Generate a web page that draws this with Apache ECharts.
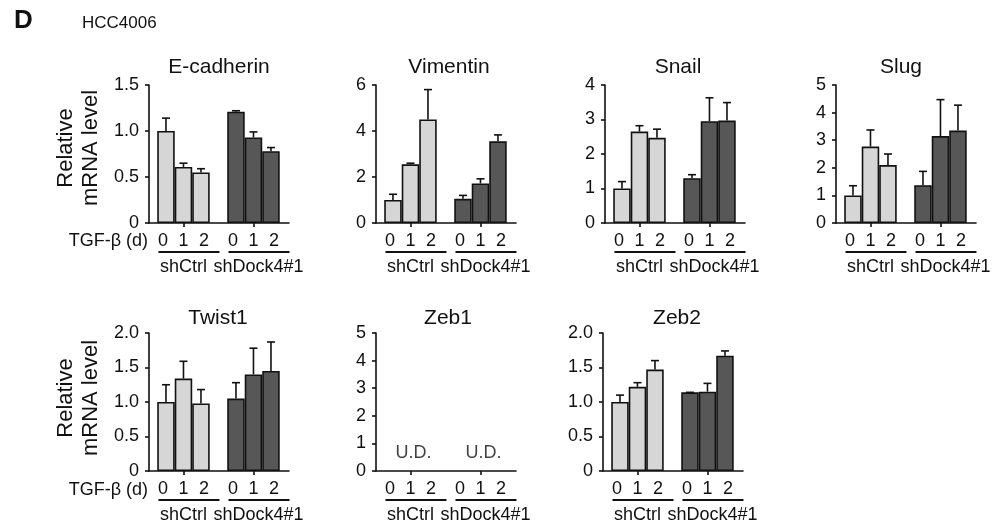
<!DOCTYPE html>
<html><head><meta charset="utf-8">
<script src="https://cdn.jsdelivr.net/npm/echarts@6/dist/echarts.min.js"></script>
<style>html,body{margin:0;padding:0;background:#fff}#c{width:1001px;height:527px}</style>
</head><body><div id="c"></div>
<script>
// ---- data ----
const genes = ['E-cadherin','Vimentin','Snail','Slug','Twist1','Zeb1','Zeb2'];
const days = ['0','1','2'];
const groups = ['shCtrl','shDock4#1'];
const yMax = [1.5, 6, 4, 5, 2, 5, 2];
const yStep = [0.5, 2, 1, 1, 0.5, 1, 0.5];
const ecadCtrl = [1.00, 0.61, 0.55], ecadCtrlErr = [0.14, 0.04, 0.04];
const ecadDock = [1.21, 0.93, 0.78], ecadDockErr = [0.01, 0.06, 0.04];
const vimCtrl = [1.00, 2.55, 4.50], vimCtrlErr = [0.25, 0.05, 1.30];
const vimDock = [1.05, 1.72, 3.55], vimDockErr = [0.15, 0.20, 0.28];
const snailCtrl = [1.00, 2.65, 2.47], snailCtrlErr = [0.20, 0.17, 0.25];
const snailDock = [1.30, 2.95, 2.97], snailDockErr = [0.10, 0.68, 0.52];
const slugCtrl = [1.00, 2.77, 2.10], slugCtrlErr = [0.35, 0.60, 0.40];
const slugDock = [1.37, 3.15, 3.35], slugDockErr = [0.50, 1.32, 0.92];
const twistCtrl = [1.00, 1.34, 0.98], twistCtrlErr = [0.25, 0.25, 0.20];
const twistDock = [1.05, 1.40, 1.45], twistDockErr = [0.23, 0.38, 0.42];
const undetected = 'U.D.'; // Zeb1: undetectable in both groups
const zeb2Ctrl = [1.00, 1.22, 1.47], zeb2CtrlErr = [0.10, 0.06, 0.13];
const zeb2Dock = [1.14, 1.15, 1.67], zeb2DockErr = [0.00, 0.12, 0.07];

const panelData = [
  [ecadCtrl, ecadCtrlErr, ecadDock, ecadDockErr],
  [vimCtrl, vimCtrlErr, vimDock, vimDockErr],
  [snailCtrl, snailCtrlErr, snailDock, snailDockErr],
  [slugCtrl, slugCtrlErr, slugDock, slugDockErr],
  [twistCtrl, twistCtrlErr, twistDock, twistDockErr],
  null,
  [zeb2Ctrl, zeb2CtrlErr, zeb2Dock, zeb2DockErr]
];

// ---- layout ----
const FONT = 'Liberation Sans, Arial, sans-serif';
const FS = 18;
const TFS = 21;
const gridLeft = [149, 376, 605, 836, 149, 376, 603];
const gridTop = [85, 85, 85, 85, 333, 333, 333];
const gridH = [138, 138, 138, 138, 138, 138, 138];
const titleX = [219, 449, 678, 901, 218, 448, 677];
const titleY = [67, 67, 67, 67, 318, 318, 318];
const fills = ['#d6d6d6', '#575757'];
const groupTextShift = [0, 5];

const grid = [], xAxis = [], yAxis = [], series = [], graphic = [];
genes.forEach((g, i) => {
  grid.push({left: gridLeft[i], top: gridTop[i], width: 140, height: gridH[i]});
  graphic.push({type: 'text', x: titleX[i], y: titleY[i], style: {text: g, fill: '#111',
    font: TFS + 'px ' + FONT, textAlign: 'center', textVerticalAlign: 'middle'}});
  xAxis.push({type: 'value', gridIndex: i, min: -0.97, max: 7.03,
    axisLine: {show: true, onZero: false, lineStyle: {color: '#111', width: 1.6}},
    axisTick: {show: true, customValues: [1, 5], length: 4, lineStyle: {color: '#111', width: 1.6}},
    axisLabel: {show: true, customValues: [-0.17, 1, 2.17, 3.83, 5, 6.17], margin: 9,
      formatter: v => days[Math.round(v) % 4], fontFamily: FONT, fontSize: FS, color: '#111'},
    splitLine: {show: false}});
  yAxis.push({type: 'value', gridIndex: i, min: 0, max: yMax[i], interval: yStep[i],
    axisLine: {show: true, onZero: false, lineStyle: {color: '#111', width: 1.6}},
    axisTick: {show: true, length: 4, lineStyle: {color: '#111', width: 1.6}},
    axisLabel: {margin: 10, fontFamily: FONT, fontSize: FS, color: '#111',
      formatter: v => v === 0 ? '0' : (yStep[i] < 1 ? v.toFixed(1) : String(v))},
    splitLine: {show: false}});
  const pd = panelData[i];
  if (pd) {
    [0, 1].forEach(k => {
      const vals = pd[k * 2], errs = pd[k * 2 + 1];
      series.push({type: 'bar', xAxisIndex: i, yAxisIndex: i, barWidth: 17.5, barGap: '-100%',
        data: vals.map((v, j) => [j + k * 4, v]),
        itemStyle: {color: fills[k], borderColor: '#111', borderWidth: 1.6}, z: 2, silent: true});
      series.push({type: 'custom', xAxisIndex: i, yAxisIndex: i, z: 3, silent: true,
        dimensions: ['x', 'mean', 'err'], encode: {x: 0, y: 1},
        data: vals.map((v, j) => [j + k * 4, v, errs[j]]),
        renderItem: (params, api) => {
          const x = api.value(0), m = api.value(1), e = api.value(2);
          const p0 = api.coord([x, m]), p1 = api.coord([x, m + e]);
          const st = {stroke: '#111', lineWidth: 1.6};
          return {type: 'group', children: [
            {type: 'line', shape: {x1: p0[0], y1: p0[1], x2: p1[0], y2: p1[1]}, style: st},
            {type: 'line', shape: {x1: p1[0] - 4, y1: p1[1], x2: p1[0] + 4, y2: p1[1]}, style: st}
          ]};
        }});
    });
  } else {
    series.push({type: 'scatter', xAxisIndex: i, yAxisIndex: i, symbolSize: 0,
      data: [[1, 0], [5, 0]],
      label: {show: true, position: 'top', distance: 9, offset: [3, 0], formatter: undetected,
        fontFamily: FONT, fontSize: FS, color: '#111'}});
  }
  // group underline + label
  series.push({type: 'custom', xAxisIndex: i, yAxisIndex: i, silent: true, clip: false,
    dimensions: ['x', 'y', 'g'], encode: {x: 0, y: 1},
    data: groups.map((gname, k) => [1 + k * 4, 0, k]),
    renderItem: (params, api) => {
      const c = api.coord([api.value(0), 0]);
      const gi = api.value(2);
      return {type: 'group', children: [
        {type: 'line', shape: {x1: c[0] - 25, y1: c[1] + 29, x2: c[0] + 36, y2: c[1] + 29},
          style: {stroke: '#111', lineWidth: 2}},
        {type: 'text', x: c[0] + groupTextShift[gi], y: c[1] + 44,
          style: {text: groups[gi], fill: '#111', font: FS + 'px ' + FONT, textAlign: 'center', textVerticalAlign: 'middle'}}
      ]};
    }});
});

const ylab = (y) => ({type: 'text', x: 78, y: y, rotation: Math.PI / 2, style: {
  text: 'Relative\nmRNA level', fill: '#111', font: '22px ' + FONT, textAlign: 'center',
  textVerticalAlign: 'middle', lineHeight: 25}});
const tgf = (y) => ({type: 'text', x: 148, y: y, style: {text: 'TGF-β (d)', fill: '#111',
  font: FS + 'px ' + FONT, textAlign: 'right', textVerticalAlign: 'middle'}});
graphic.push(ylab(148), ylab(398), tgf(241), tgf(490));
graphic.push({type: 'text', x: 14, y: 21, style: {text: 'D', fill: '#111', font: 'bold 26px ' + FONT, textVerticalAlign: 'middle'}});
graphic.push({type: 'text', x: 82, y: 23, style: {text: 'HCC4006', fill: '#111', font: '17px ' + FONT, textVerticalAlign: 'middle'}});

const chart = echarts.init(document.getElementById('c'), null, {renderer: 'canvas'});
chart.setOption({
  animation: false,
  backgroundColor: '#fff',
  grid, xAxis, yAxis, series, graphic
});
</script></body></html>
